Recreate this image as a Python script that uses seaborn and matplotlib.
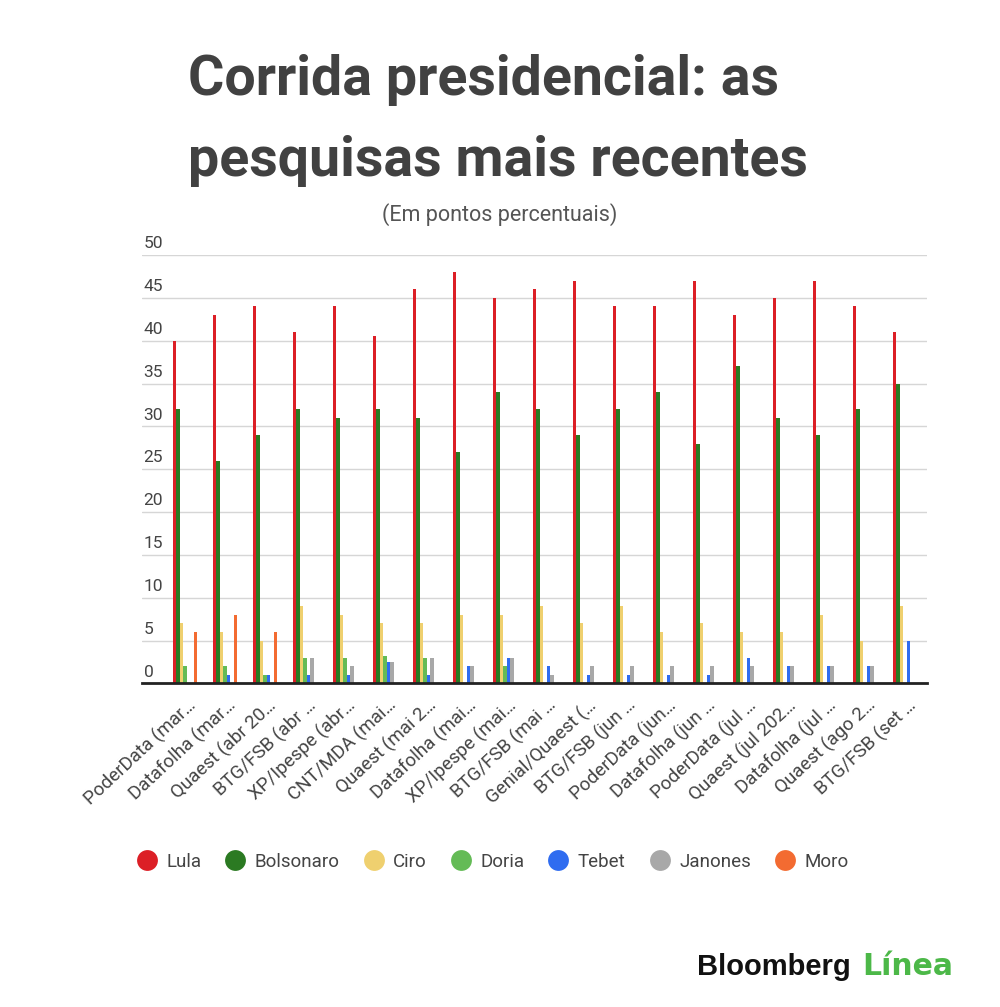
import numpy as np
import pandas as pd
import matplotlib
matplotlib.use("Agg")
import matplotlib.pyplot as plt
import matplotlib.transforms as mtransforms
from matplotlib.lines import Line2D
import seaborn as sns

nan = np.nan

polls = [
    "PoderData (mar…", "Datafolha (mar…", "Quaest (abr 20…", "BTG/FSB (abr …",
    "XP/Ipespe (abr…", "CNT/MDA (mai…", "Quaest (mai 2…", "Datafolha (mai…",
    "XP/Ipespe (mai…", "BTG/FSB (mai …", "Genial/Quaest (…", "BTG/FSB (jun …",
    "PoderData (jun…", "Datafolha (jun …", "PoderData (jul …", "Quaest (jul 202…",
    "Datafolha (jul …", "Quaest (ago 2…", "BTG/FSB (set …",
]
candidates = ["Lula", "Bolsonaro", "Ciro", "Doria", "Tebet", "Janones", "Moro"]

lula = [40, 43, 44, 41, 44, 40.6, 46, 48, 45, 46, 47, 44, 44, 47, 43, 45, 47, 44, 41]
bolsonaro = [32, 26, 29, 32, 31, 32, 31, 27, 34, 32, 29, 32, 34, 28, 37, 31, 29, 32, 35]
ciro = [7, 6, 5, 9, 8, 7.1, 7, 8, 8, 9, 7, 9, 6, 7, 6, 6, 8, 5, 9]
doria = [2, 2, 1, 3, 3, 3.2, 3, nan, 2, nan, nan, nan, nan, nan, nan, nan, nan, nan, nan]
tebet = [nan, 1, 1, 1, 1, 2.5, 1, 2, 3, 2, 1, 1, 1, 1, 3, 2, 2, 2, 5]
janones = [nan, nan, nan, 3, 2, 2.5, 3, 2, 3, 1, 2, 2, 2, 2, 2, 2, 2, 2, nan]
moro = [6, 8, 6] + [nan] * 16

colors = {
    "Lula": "#dc1f26",
    "Bolsonaro": "#2b7a22",
    "Ciro": "#efd06f",
    "Doria": "#64bb56",
    "Tebet": "#2f6cf0",
    "Janones": "#a8a8a8",
    "Moro": "#f36b31",
}

series = dict(zip(candidates, [lula, bolsonaro, ciro, doria, tebet, janones, moro]))
df = pd.DataFrame(
    [(p, c, v) for c, vals in series.items() for p, v in zip(polls, vals)],
    columns=["poll", "candidate", "value"],
)

sns.set_style("white")
plt.rcParams["font.family"] = ["Roboto", "DejaVu Sans"]
text_col = "#444444"

fig = plt.figure(figsize=(10, 10.07), dpi=100)
ax = fig.add_axes([0.142, 0.3213, 0.785, 0.4255])

sns.barplot(
    data=df, x="poll", y="value", hue="candidate",
    order=polls, hue_order=candidates, palette=colors,
    width=0.62, gap=0, linewidth=0, saturation=1,
    legend=False, ax=ax,
)

ax.set_xlim(-1.075, 18.55)
ax.set_ylim(0, 50)
ax.set_xlabel("")
ax.set_ylabel("")
for s in ["top", "right", "left"]:
    ax.spines[s].set_visible(False)
ax.spines["bottom"].set_color("#222222")
ax.spines["bottom"].set_linewidth(2)

# gridlines + labels sitting above them
yticks = list(range(0, 55, 5))
ax.set_yticks(yticks)
ax.set_yticklabels([])
ax.tick_params(axis="y", length=0)
ax.grid(axis="y", color="#d6d6d6", linewidth=1)
ax.set_axisbelow(True)
ytrans = ax.get_yaxis_transform()
for v in yticks:
    ax.text(0.002, v + 0.45, str(v), transform=ytrans, ha="left", va="bottom",
            fontsize=12.5, color=text_col)

# category band ticks + rotated labels
ax.set_xticks(np.arange(len(polls)))
ax.set_xticklabels(polls, rotation=43, ha="right", rotation_mode="anchor",
                   fontsize=13.5, color=text_col)
ax.tick_params(axis="x", which="major", length=0, pad=9)
shift = mtransforms.ScaledTranslation(2 / 100, 0, fig.dpi_scale_trans)
for lab in ax.get_xticklabels():
    lab.set_transform(lab.get_transform() + shift)
ax.set_xticks(np.arange(len(polls) + 1) - 0.5, minor=True)
ax.tick_params(axis="x", which="minor", length=10, width=1.2, color="#888888",
               direction="out")

# titles
fig.text(0.188, 1 - 95 / 1007, "Corrida presidencial: as", fontsize=40,
         fontweight="bold", color="#414141", ha="left", va="baseline")
fig.text(0.188, 1 - 176 / 1007, "pesquisas mais recentes", fontsize=40,
         fontweight="bold", color="#414141", ha="left", va="baseline")
fig.text(0.500, 1 - 215 / 1007, "(Em pontos percentuais)", fontsize=15.5,
         color="#555555", ha="center", va="center")

# legend
handles = [Line2D([], [], marker="o", linestyle="", markersize=15,
                  markerfacecolor=colors[c], markeredgewidth=0, label=c)
           for c in candidates]
leg = fig.legend(handles=handles, loc="center", ncol=7,
                 bbox_to_anchor=(0.492, 1 - 862 / 1007), frameon=False,
                 fontsize=13.5, handlelength=1.2, handletextpad=0.45,
                 columnspacing=1.2)
for t in leg.get_texts():
    t.set_color(text_col)

# logo
logo = fig.text(0.697, 1 - 975 / 1007, "Bloomberg ", fontsize=21, fontweight="bold",
                family="Liberation Sans", color="#111111", ha="left", va="baseline")
fig.canvas.draw()
bb = logo.get_window_extent()
fig.text(bb.x1 / fig.bbox.width + 0.003, 1 - 975 / 1007, "Línea", fontsize=21.5,
         fontweight="bold", family="DejaVu Sans", color="#4cb848",
         ha="left", va="baseline")

fig.savefig("out.png", dpi=100)
